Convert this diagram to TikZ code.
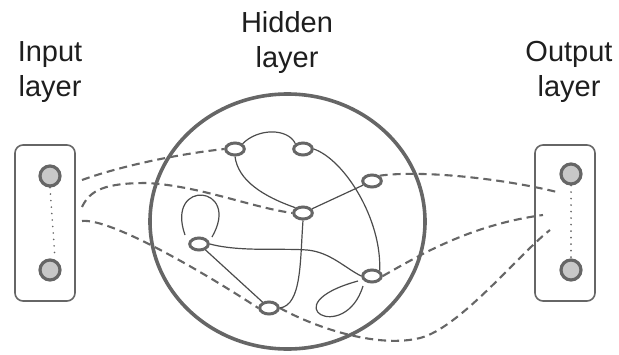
\documentclass[tikz,border=0pt]{standalone}
\usepackage{fontspec}
\setmainfont{Liberation Sans}
\usetikzlibrary{shapes.geometric,calc}
\definecolor{edge}{HTML}{666666}
\definecolor{thinc}{HTML}{4C4C4C}
\definecolor{unitfill}{HTML}{C8C8C8}
\definecolor{txt}{HTML}{1E1E1E}
\begin{document}
\begin{tikzpicture}[x=1pt,y=-1pt,
  lbl/.style={font=\fontsize{29}{35.5}\selectfont, text=txt, align=center, inner sep=0},
  layerbox/.style={draw=edge, line width=1.6, rounded corners=8, minimum width=60, minimum height=156, inner sep=0},
  unit/.style={circle, draw=edge, line width=3.2, fill=unitfill, minimum size=20, inner sep=0},
  hunit/.style={ellipse, draw=edge, line width=3, fill=white, minimum width=18.6, minimum height=12, inner sep=0},
  bigcirc/.style={ellipse, draw=edge, line width=3.6, minimum width=275, minimum height=255, inner sep=0},
  dashline/.style={draw=edge, line width=2.1, dash pattern=on 8pt off 5pt},
  link/.style={draw=thinc, line width=1.2},
  dotline/.style={draw=edge, line width=1.8, line cap=round, dash pattern=on 0pt off 6.5pt}]
\useasboundingbox (0,0) rectangle (619,354);

% labels
\node[lbl] (inlabel) at (50,72) {Input\\layer};
\node[lbl] (hidlabel) at (287,42.5) {Hidden\\layer};
\node[lbl] (outlabel) at (569,72) {Output\\layer};

% layer boxes and units
\node[layerbox] (inbox) at (45,223) {};
\node[layerbox] (outbox) at (565,223) {};
\node[unit] (in1) at (50,176) {};
\node[unit] (in2) at (50,270) {};
\node[unit] (out1) at (571,174) {};
\node[unit] (out2) at (571,270) {};
\draw[dotline] (in1.south) -- ([xshift=5]in2.north);
\draw[dotline] (out1.south) -- (out2.north);

% hidden layer
\node[bigcirc] (hidden) at (287.5,221.5) {};
\node[hunit] (hA) at (235,149) {};
\node[hunit] (hB) at (303,149) {};
\node[hunit] (hC) at (372,181) {};
\node[hunit] (hD) at (303,213) {};
\node[hunit] (hE) at (199,244) {};
\node[hunit] (hF) at (372,276) {};
\node[hunit] (hG) at (269,308) {};

% free ends at the layer boxes
\coordinate (s1) at (82,180);
\coordinate (s2) at (82,207);
\coordinate (s3) at (82,221);
\coordinate (e1) at (557,192);
\coordinate (e2) at (543,215);
\coordinate (e3) at (550,230);

% dashed connections
\draw[dashline] (s1) .. controls (115,168) and (170,155) .. (hA.west);
\draw[dashline] (s2) .. controls (90,190) and (105,183) .. (147,183) .. controls (200,186) and (250,207) .. (hD.west);
\draw[dashline] (s3) .. controls (110,218) and (200,270) .. (hG.west);
\draw[dashline] (hC.north east) .. controls (420,170) and (500,178) .. (e1);
\draw[dashline] (hF.east) .. controls (420,255) and (470,225) .. (e2);
\draw[dashline] (hG.east) .. controls (320,330) and (380,348) .. (420,338) .. controls (460,328) and (520,253) .. (e3);

% recurrent links
\draw[link] (hA.north east) .. controls (258,128) and (288,128) .. (hB.north west);
\draw[link] (hA.south) .. controls (238,180) and (262,196) .. (hD.north west);
\draw[link] (hB.east) .. controls (345,160) and (382,220) .. (hF.north east);
\draw[link] (hD) -- (hC);
\draw[link] (hD.south) .. controls (300,260) and (302,305) .. (hG.east);
\draw[link] (hE.east) .. controls (240,252) and (280,248) .. (307,250) .. controls (330,252) and (345,268) .. (hF.west);
\draw[link] (hE) -- (hG);
\draw[link] ($(hE)+(13,-7)$) .. controls (242,185) and (165,178) .. ($(hE)+(-14,-9)$);
\draw[link] ($(hF)+(-9,10)$) .. controls (345,345) and (270,305) .. ($(hF)+(-14,5)$);
\end{tikzpicture}
\end{document}
